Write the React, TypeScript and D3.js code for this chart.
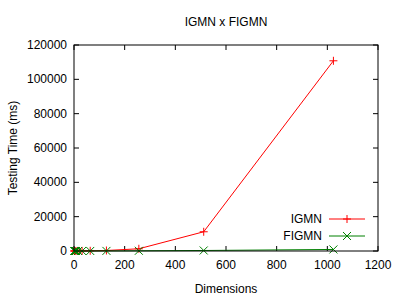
import React from "react";
import * as d3 from "d3";

const dimensions = [1, 2, 4, 8, 16, 32, 64, 128, 256, 512, 1024];
const igmnTimes = [2, 3, 5, 10, 20, 50, 120, 300, 1300, 11200, 110800];
const figmnTimes = [1, 1, 2, 3, 5, 10, 20, 50, 120, 300, 900];
const xTicks = [0, 200, 400, 600, 800, 1000, 1200];
const yTicks = [0, 20000, 40000, 60000, 80000, 100000, 120000];
const seriesNames = ["IGMN", "FIGMN"];
const seriesColors = ["#ff0000", "#008000"];

const W = 400, H = 300;
const L = 74, R = 378, T = 45, B = 251;
const font = "'Liberation Sans', Arial, sans-serif";

function Marker({ kind, x, y, color }: { kind: number; x: number; y: number; color: string }) {
  const s = 4;
  if (kind === 0) {
    return (
      <path d={`M${x - s},${y}H${x + s}M${x},${y - s}V${y + s}`} stroke={color} strokeWidth={1} fill="none" />
    );
  }
  return (
    <path d={`M${x - s},${y - s}L${x + s},${y + s}M${x - s},${y + s}L${x + s},${y - s}`} stroke={color} strokeWidth={1} fill="none" />
  );
}

export default function App() {
  const x = d3.scaleLinear().domain([0, 1200]).range([L, R]);
  const y = d3.scaleLinear().domain([0, 120000]).range([B, T]);
  const series = [igmnTimes, figmnTimes];
  const line = d3
    .line<[number, number]>()
    .x((d) => x(d[0]))
    .y((d) => y(d[1]));
  const tick = 5;
  return (
    <svg width={W} height={H} style={{ position: "absolute", left: 0, top: 0 }} fontFamily={font}>
      <rect width={W} height={H} fill="#fff" />
      <text x={(L + R) / 2} y={26} textAnchor="middle" fontSize={12}>IGMN x FIGMN</text>
      {yTicks.map((t) => (
        <g key={"y" + t}>
          <line x1={L} x2={L + tick} y1={y(t)} y2={y(t)} stroke="#000" />
          <line x1={R} x2={R - tick} y1={y(t)} y2={y(t)} stroke="#000" />
          <text x={L - 7} y={y(t) + 4} textAnchor="end" fontSize={12}>{t}</text>
        </g>
      ))}
      {xTicks.map((t) => (
        <g key={"x" + t}>
          <line x1={x(t)} x2={x(t)} y1={B} y2={B - tick} stroke="#000" />
          <line x1={x(t)} x2={x(t)} y1={T} y2={T + tick} stroke="#000" />
          <text x={x(t)} y={B + 18} textAnchor="middle" fontSize={12}>{t}</text>
        </g>
      ))}
      <text x={(L + R) / 2} y={293} textAnchor="middle" fontSize={12}>Dimensions</text>
      <text transform={`translate(17,${(T + B) / 2}) rotate(-90)`} textAnchor="middle" fontSize={12}>Testing Time (ms)</text>
      {series.map((vals, i) => {
        const pts = dimensions.map((d, j) => [d, vals[j]] as [number, number]);
        return (
          <g key={"s" + i}>
            <path d={line(pts) || ""} stroke={seriesColors[i]} fill="none" strokeWidth={1} />
            {pts.map((p, j) => (
              <Marker key={j} kind={i} x={x(p[0])} y={y(p[1])} color={seriesColors[i]} />
            ))}
          </g>
        );
      })}
      {seriesNames.map((n, i) => {
        const ly = 219 + i * 17;
        return (
          <g key={"l" + i}>
            <text x={322} y={ly + 4} textAnchor="end" fontSize={12}>{n}</text>
            <line x1={329} x2={365} y1={ly} y2={ly} stroke={seriesColors[i]} strokeWidth={1} />
            <Marker kind={i} x={347} y={ly} color={seriesColors[i]} />
          </g>
        );
      })}
      <rect x={L} y={T} width={R - L} height={B - T} fill="none" stroke="#000" strokeWidth={1} />
    </svg>
  );
}
